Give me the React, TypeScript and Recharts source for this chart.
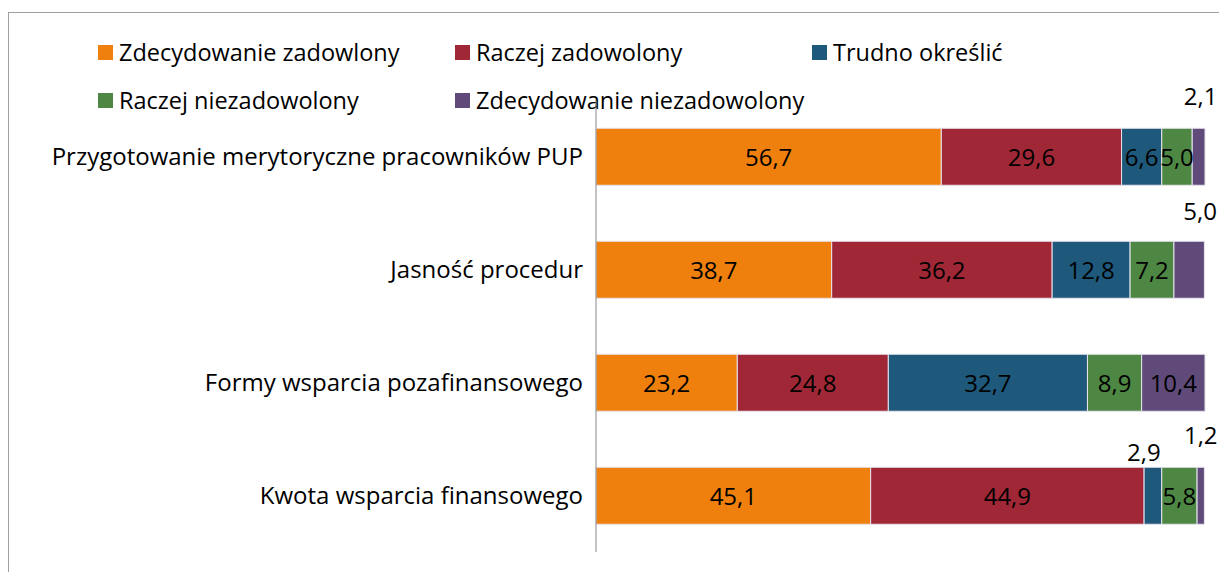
import React from 'react';
import { BarChart, Bar, XAxis, YAxis, LabelList } from 'recharts';

const categories = [
  'Przygotowanie merytoryczne pracowników PUP',
  'Jasność procedur',
  'Formy wsparcia pozafinansowego',
  'Kwota wsparcia finansowego',
];
const seriesNames = [
  'Zdecydowanie zadowlony',
  'Raczej zadowolony',
  'Trudno określić',
  'Raczej niezadowolony',
  'Zdecydowanie niezadowolony',
];
const zdecZad = [56.7, 38.7, 23.2, 45.1];
const raczZad = [29.6, 36.2, 24.8, 44.9];
const trudno = [6.6, 12.8, 32.7, 2.9];
const raczNiezad = [5.0, 7.2, 8.9, 5.8];
const zdecNiezad = [2.1, 5.0, 10.4, 1.2];

const seriesValues = [zdecZad, raczZad, trudno, raczNiezad, zdecNiezad];
const colors = ['#EF800E', '#A02836', '#1E587A', '#4E8743', '#5F4A7A'];
const keys = ['s1', 's2', 's3', 's4', 's5'];

// labels drawn above the bar (series index, category index, offsets)
const outsideLabels: { s: number; i: number; dx: number; dy: number }[] = [
  { s: 4, i: 0, dx: 2, dy: -33 },
  { s: 4, i: 1, dx: 11, dy: -31 },
  { s: 2, i: 3, dx: -9, dy: -16 },
  { s: 4, i: 3, dx: 0, dy: -33 },
];

const data = categories.map((c, i) => {
  const row: any = { name: c };
  keys.forEach((k, s) => (row[k] = seriesValues[s][i]));
  return row;
});

const FONT = '"Open Sans", sans-serif';
const SIZE = 24;
const LEG_SIZE = 23.5;
const fmt = (v: number) => v.toFixed(1).replace('.', ',');

const makeLabel = (s: number) => (props: any) => {
  const { x, y, width, height, value, index } = props;
  const out = outsideLabels.find((o) => o.s === s && o.i === index);
  const cx = Number(x) + Number(width) / 2;
  const cy = Number(y) + Number(height) / 2;
  if (out) {
    return (
      <text x={cx + out.dx} y={Number(y) + out.dy} textAnchor="middle" dominantBaseline="central"
        fontFamily={FONT} fontSize={SIZE} fill="#000">{fmt(value)}</text>
    );
  }
  return (
    <text x={cx} y={cy} textAnchor="middle" dominantBaseline="central"
      fontFamily={FONT} fontSize={SIZE} fill="#000">{fmt(value)}</text>
  );
};

const legendCols = [89, 446, 803];

export default function App() {
  return (
    <div style={{ position: 'relative', width: 1210, height: 559, marginTop: 4, borderTop: '1px solid #a0a0a0', borderLeft: '1px solid #a0a0a0', fontFamily: FONT }}>
      <style>{`html{overflow:hidden}`}</style>
      {seriesNames.map((n, i) => (
        <div key={n} style={{ position: 'absolute', left: legendCols[i % 3], top: i < 3 ? 32 : 80, display: 'flex', alignItems: 'center', whiteSpace: 'nowrap' }}>
          <div style={{ width: 15, height: 15, background: colors[i], marginRight: 6 }} />
          <span style={{ fontSize: LEG_SIZE, color: '#000', lineHeight: '15px' }}>{n}</span>
        </div>
      ))}
      <BarChart width={1210} height={558} data={data} layout="vertical" barCategoryGap="25%"
        margin={{ top: 87, right: 14, bottom: 19, left: 0 }}>
        <XAxis type="number" domain={[0, 100]} hide />
        <YAxis type="category" dataKey="name" width={587} axisLine={{ stroke: '#888' }} tickLine={false}
          tickSize={0} tickMargin={13} tick={{ fontFamily: FONT, fontSize: SIZE, fill: '#000' }} interval={0} />
        {keys.map((k, s) => (
          <Bar key={k} dataKey={k} stackId="a" fill={colors[s]} stroke="#e8e4ee" strokeWidth={1} isAnimationActive={false}>
            <LabelList dataKey={k} content={makeLabel(s)} />
          </Bar>
        ))}
      </BarChart>
    </div>
  );
}
